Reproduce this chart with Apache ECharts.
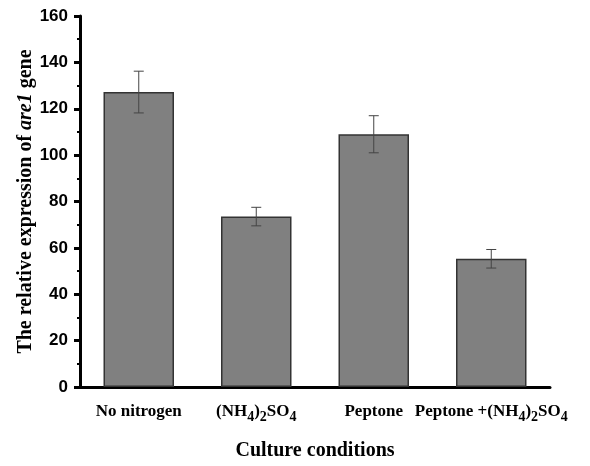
<!DOCTYPE html>
<html>
<head>
<meta charset="utf-8">
<script src="https://cdn.jsdelivr.net/npm/echarts@6/dist/echarts.min.js"></script>
<style>
html, body { margin: 0; padding: 0; background: #fff; }
#container { width: 590px; height: 466px; }
</style>
</head>
<body>
<div id="container"></div>
<script>
var categories = ['No nitrogen', '(NH4)2SO4', 'Peptone', 'Peptone +(NH4)2SO4'];
var labelRich = [
    '{b|No nitrogen}',
    '{b|(NH}{s|4}{b|)}{s|2}{b|SO}{s|4}',
    '{b|Peptone}',
    '{b|Peptone +(NH}{s|4}{b|)}{s|2}{b|SO}{s|4}'
];
var means = [127.2, 73.5, 109.0, 55.3];
var errors = [9.0, 4.0, 8.0, 4.0];

var dom = document.getElementById('container');
var myChart = echarts.init(dom);
var serif = 'Liberation Serif';
var sans = 'Liberation Sans';

var errData = [];
for (var i = 0; i < means.length; i++) {
    errData.push([i, means[i] - errors[i], means[i] + errors[i]]);
}

var option = {
    animation: false,
    grid: { left: 80, right: 40, top: 16, bottom: 73, containLabel: false },
    xAxis: [
        {
            type: 'category',
            data: categories,
            name: 'Culture conditions',
            nameLocation: 'middle',
            nameGap: 54,
            nameTextStyle: { fontFamily: serif, fontWeight: 'bold', fontSize: 20, color: '#000' },
            axisLine: { lineStyle: { color: '#000', width: 3 } },
            axisTick: { alignWithLabel: true, length: 6, lineStyle: { color: '#000', width: 3 } },
            axisLabel: {
                margin: 15,
                interval: 0,
                formatter: function (v, idx) { return labelRich[idx]; },
                rich: {
                    b: { fontFamily: serif, fontWeight: 'bold', fontSize: 17, color: '#000', lineHeight: 20 },
                    s: { fontFamily: serif, fontWeight: 'bold', fontSize: 14, color: '#000', lineHeight: 20, padding: [10, 0, 0, 0] }
                }
            }
        },
        {
            type: 'category',
            data: categories,
            position: 'bottom',
            axisLine: { show: false },
            axisTick: { length: 3, lineStyle: { color: '#000', width: 3 } },
            axisLabel: { show: false }
        }
    ],
    yAxis: {
        type: 'value',
        min: 0,
        max: 160,
        interval: 20,
        name: '{a|The relative expression of }{i|are1}{a| gene}',
        nameLocation: 'middle',
        nameGap: 44,
        nameMoveOverlap: false,
        nameTextStyle: {
            rich: {
                a: { fontFamily: serif, fontWeight: 'bold', fontSize: 20, color: '#000' },
                i: { fontFamily: serif, fontWeight: 'bold', fontStyle: 'italic', fontSize: 20, color: '#000' }
            }
        },
        axisLine: { show: true, lineStyle: { color: '#000', width: 3 } },
        axisTick: { show: true, length: 6, lineStyle: { color: '#000', width: 3 } },
        minorTick: { show: true, splitNumber: 2, length: 3, lineStyle: { color: '#000', width: 2 } },
        splitLine: { show: false },
        axisLabel: { fontFamily: sans, fontWeight: 'bold', fontSize: 17, color: '#000', margin: 12 }
    },
    series: [
        {
            type: 'bar',
            data: means,
            barWidth: '60%',
            itemStyle: { color: '#808080', borderColor: '#333', borderWidth: 1.5 }
        },
        {
            type: 'custom',
            data: errData,
            z: 10,
            renderItem: function (params, api) {
                var x = api.value(0);
                var lo = api.coord([x, api.value(1)]);
                var hi = api.coord([x, api.value(2)]);
                var w = 5;
                var st = { stroke: '#444', lineWidth: 1 };
                return {
                    type: 'group',
                    children: [
                        { type: 'line', shape: { x1: hi[0], y1: hi[1], x2: lo[0], y2: lo[1] }, style: st },
                        { type: 'line', shape: { x1: hi[0] - w, y1: hi[1], x2: hi[0] + w, y2: hi[1] }, style: st },
                        { type: 'line', shape: { x1: lo[0] - w, y1: lo[1], x2: lo[0] + w, y2: lo[1] }, style: st }
                    ]
                };
            }
        }
    ]
};
myChart.setOption(option);
</script>
</body>
</html>
